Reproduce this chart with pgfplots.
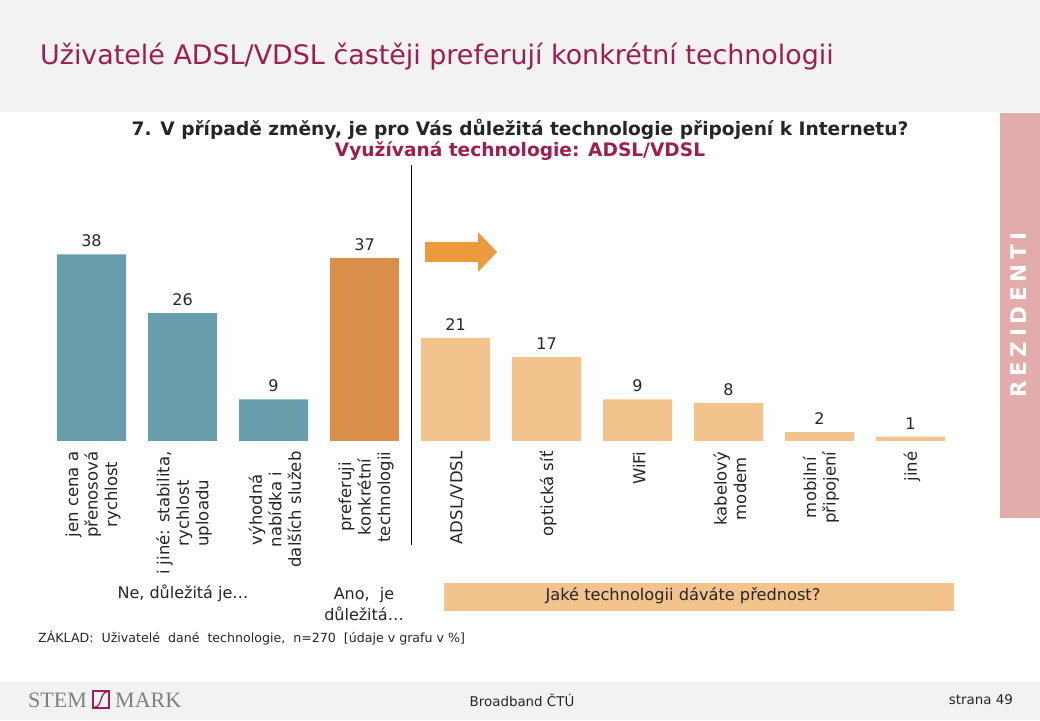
\documentclass[border=0pt]{standalone}
\usepackage{pgfplots}
\pgfplotsset{compat=1.18}
\usepackage{fontspec}
\setmainfont{DejaVu Sans}
\newfontfamily\logofont{Liberation Serif}
\newfontfamily\spacedfont[LetterSpace=22]{DejaVu Sans}
\definecolor{barteal}{RGB}{104,158,172}
\definecolor{barorange}{RGB}{217,143,74}
\definecolor{barpeach}{RGB}{243,195,141}
\definecolor{arroworange}{RGB}{236,154,62}
\definecolor{maroon}{RGB}{158,30,82}
\definecolor{sidepink}{RGB}{226,172,172}
\definecolor{bandgray}{RGB}{242,242,242}
\definecolor{txt}{RGB}{38,38,38}
\definecolor{logogray}{RGB}{128,128,128}
\begin{document}
\begin{tikzpicture}[x=1pt,y=1pt]
\path[use as bounding box] (0,0) rectangle (1040,720);
\fill[white] (0,0) rectangle (1040,720);
\fill[bandgray] (0,608) rectangle (1040,720);
\fill[bandgray] (0,0) rectangle (1040,38);
\fill[sidepink] (1000,202) rectangle (1040,607);
% title
\node[anchor=west, text=maroon, font=\fontsize{26.9}{30}\selectfont, inner sep=0pt] at (40,663) {Uživatelé ADSL/VDSL častěji preferují konkrétní technologii};
\node[text=txt, font=\bfseries\fontsize{18.6}{22}\selectfont, inner sep=0pt] at (520,591) {7. V případě změny, je pro Vás důležitá technologie připojení k Internetu?};
\node[text=maroon, font=\bfseries\fontsize{18.6}{22}\selectfont, inner sep=0pt] at (520,569) {Využívaná technologie: ADSL/VDSL};
% side label
\node[rotate=90, text=white, font=\spacedfont\bfseries\fontsize{21.5}{24}\selectfont, inner sep=0pt] at (1019,405) {REZIDENTI};
% separator
\draw[black, line width=1pt] (411,555) -- (411,175);
% arrow
\fill[arroworange] (425,478) -- (478,478) -- (478,488) -- (497,468) -- (478,448) -- (478,458) -- (425,458) -- cycle;
\begin{axis}[
  at={(46pt,279pt)}, anchor=south west,
  scale only axis, width=910pt, height=220.5pt,
  xmin=-0.5, xmax=9.5, ymin=0, ymax=45,
  ybar, bar width=69pt, bar shift=0pt,
  axis line style={draw=none}, major tick length=0pt,
  ytick=\empty, xtick={0,...,9},
  xticklabels={{jen cena a\\přenosová\\rychlost},{i jiné: stabilita,\\rychlost\\uploadu},{výhodná\\nabídka i\\dalších služeb},{preferuji\\konkrétní\\technologii},{ADSL/VDSL},{optická síť},{WiFi},{kabelový\\modem},{mobilní\\připojení},{jiné}},
  xticklabel style={yshift=-7pt, xshift=1.5pt, rotate=90, anchor=east, align=center, font=\fontsize{16.5}{19.5}\selectfont, text=txt},
  point meta=explicit symbolic,
  nodes near coords,
  every node near coord/.append style={font=\fontsize{16}{19}\selectfont, text=txt, yshift=4pt},
  clip=false,
]
\addplot[fill=barteal, draw=none] coordinates {(0,38.1) [38] (1,26.1) [26] (2,8.5) [9]};
\addplot[fill=barorange, draw=none] coordinates {(3,37.3) [37]};
\addplot[fill=barpeach, draw=none] coordinates {(4,21) [21] (5,17.1) [17] (6,8.5) [9] (7,7.8) [8] (8,1.8) [2] (9,0.9) [1]};
\end{axis}
% group labels
\node[text=txt, font=\fontsize{16}{21}\selectfont] at (183,127) {Ne, důležitá je…};
\node[text=txt, font=\fontsize{16}{21}\selectfont, align=center] at (364,116) {Ano,~ je\\důležitá…};
\fill[barpeach] (444,137) rectangle (954,109);
\node[text=txt, font=\fontsize{16.2}{18}\selectfont] at (683,124) {Jaké technologii dáváte přednost?};
\node[anchor=west, text=txt, font=\fontsize{12.6}{14}\selectfont, inner sep=0pt] at (38,82) {ZÁKLAD:~ Uživatelé~ dané~ technologie,~ n=270~ [údaje v grafu v \%]};
% footer
\node[anchor=west, text=logogray, font=\logofont\fontsize{22}{24}\selectfont, inner sep=0pt] at (28,20) {STEM};
\node[anchor=west, text=logogray, font=\logofont\fontsize{22}{24}\selectfont, inner sep=0pt] at (115,20) {MARK};
\draw[maroon, line width=1.6pt] (93,12) rectangle (109,29);
\draw[maroon, line width=1.2pt] (95,13) .. controls (102,13) and (100,28) .. (107,28);
\node[text=txt, font=\fontsize{13.4}{15}\selectfont] at (522,20) {Broadband ČTÚ};
\node[anchor=east, text=txt, font=\fontsize{13.4}{15}\selectfont, inner sep=0pt] at (1013,20) {strana 49};
\end{tikzpicture}
\end{document}
